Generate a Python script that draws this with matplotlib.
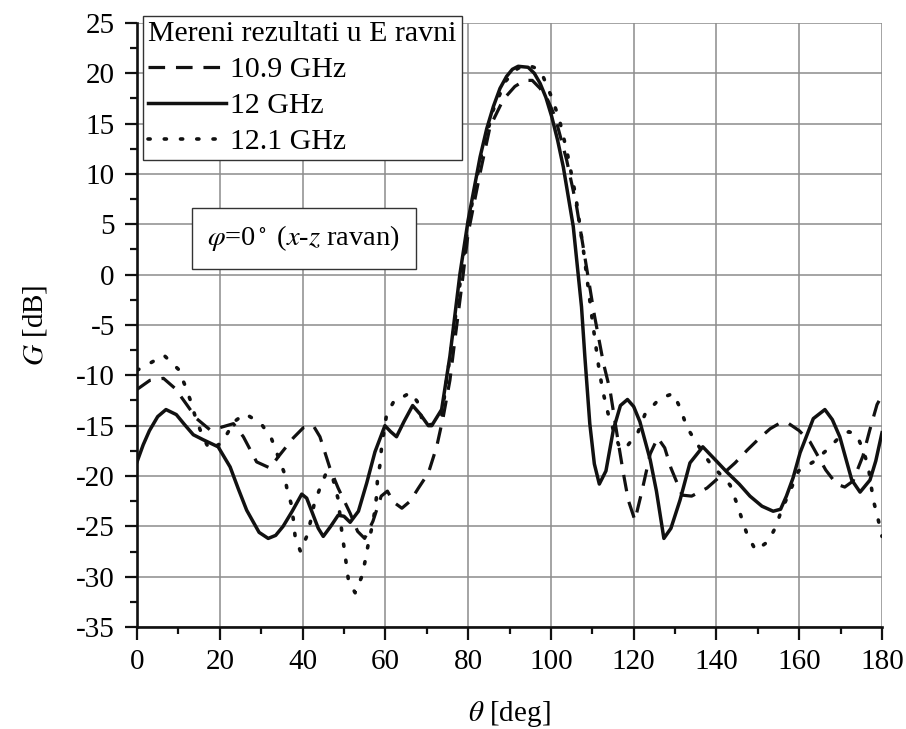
import matplotlib
matplotlib.use('Agg')
import matplotlib.pyplot as plt
from matplotlib.ticker import MultipleLocator

plt.rcParams['font.family'] = ['Liberation Serif', 'DejaVu Serif']
plt.rcParams['mathtext.fontset'] = 'stix'
plt.rcParams['axes.unicode_minus'] = False

# 10.9 GHz (dashed)
theta_109 = [0, 3.1, 6.4, 9.2, 12.0, 14.4, 17.6, 20.0, 23.3, 25.7, 28.9, 32.1, 34.5,
             37.8, 40.2, 42.6, 44.2, 46.6, 48.6, 51.5, 53.3, 55.0, 57.0, 59.0, 60.5,
             62.0, 64.0, 66.0, 68.0, 70.4, 72.4, 74.0, 75.6, 76.8, 78.5, 80.0, 82.9,
             85.3, 88.5, 91.3, 93.7, 95.5, 97.4, 99.3, 101.0, 103.8, 106.2, 108.5,
             110.5, 112.7, 114.3, 116.3, 117.5, 118.7, 120.3, 122.0, 124.0, 125.8,
             127.5, 129.0, 131.7, 134.0, 137.7, 141.0, 144.5, 147.5, 150.5, 153.0,
             155.5, 157.5, 160.0, 162.6, 164.5, 166.4, 169.0, 171.0, 173.0, 175.4,
             177.0, 178.8, 180.0]
gain_109 = [-11.4, -10.5, -10.3, -11.3, -12.9, -14.3, -15.4, -15.2, -14.8, -16.1,
            -18.6, -19.2, -17.9, -16.2, -15.2, -15.0, -16.1, -19.2, -21.2, -23.7,
            -25.5, -26.2, -24.5, -22.0, -21.5, -22.6, -23.2, -22.5, -21.2, -19.7,
            -17.1, -14.1, -10.5, -6.5, -1.0, 4.1, 10.1, 14.7, 17.4, 18.7, 19.3, 19.3,
            18.5, 17.3, 15.7, 11.4, 6.8, 1.0, -4.0, -8.8, -11.5, -16.7, -19.7, -22.4,
            -24.4, -21.5, -17.8, -16.2, -17.2, -19.2, -21.9, -22.0, -21.2, -20.0,
            -18.7, -17.4, -16.2, -15.3, -14.7, -14.8, -15.5, -16.6, -18.0, -19.4,
            -20.8, -21.1, -20.5, -18.0, -15.5, -12.9, -12.0]

# 12 GHz (solid)
theta_12 = [0, 1.5, 3.0, 5.0, 7.0, 9.5, 11.5, 13.6, 16.0, 19.6, 22.5, 24.5, 26.5,
            29.5, 31.7, 33.5, 35.3, 37.5, 39.8, 41.0, 42.4, 43.8, 45.0, 46.8, 48.6,
            50.0, 51.5, 53.5, 55.5, 57.5, 59.9, 61.3, 62.7, 64.5, 66.6, 68.5, 70.4,
            71.2, 73.6, 75.6, 78.0, 80.0, 82.9, 84.5, 86.1, 87.7, 89.3, 90.7, 92.1,
            94.5, 96.0, 97.4, 98.8, 100.2, 101.6, 103.0, 105.4, 107.4, 108.2, 109.4,
            110.5, 111.7, 113.3, 115.1, 116.8, 118.5, 120.0, 121.5, 124.0, 125.5,
            127.3, 129.0, 131.2, 133.6, 136.7, 139.5, 142.5, 145.5, 148.1, 151.0,
            153.7, 155.5, 156.9, 158.5, 160.2, 163.4, 166.2, 168.0, 169.8, 172.7,
            174.7, 177.1, 178.5, 180.0]
gain_12 = [-18.6, -16.9, -15.5, -14.1, -13.4, -13.9, -14.9, -15.9, -16.4, -17.1,
           -19.1, -21.3, -23.4, -25.6, -26.2, -25.9, -25.0, -23.5, -21.8, -22.2,
           -23.7, -25.2, -26.0, -25.0, -23.9, -24.0, -24.6, -23.5, -20.7, -17.6,
           -15.0, -15.6, -16.1, -14.6, -13.0, -13.9, -15.0, -15.0, -13.4, -8.1, 0.0,
           5.4, 11.7, 14.5, 16.7, 18.5, 19.7, 20.4, 20.7, 20.6, 20.0, 19.0, 17.6,
           15.7, 13.4, 10.7, 4.8, -3.2, -8.1, -14.8, -18.8, -20.8, -19.5, -15.4,
           -13.0, -12.4, -13.1, -14.6, -18.4, -21.5, -26.2, -25.2, -22.4, -18.7,
           -17.1, -18.3, -19.6, -20.8, -22.0, -23.0, -23.5, -23.3, -22.0, -20.2,
           -17.7, -14.3, -13.4, -14.4, -16.1, -20.4, -21.6, -20.4, -18.5, -15.7]

# 12.1 GHz (dotted)
theta_121 = [0, 2.7, 6.5, 10.0, 11.6, 13.0, 14.0, 15.6, 17.5, 20.5, 23.5, 26.1,
             30.0, 32.5, 35.5, 36.2, 37.2, 37.8, 38.2, 39.5, 41.0, 42.0, 42.8, 44.2,
             45.8, 47.3, 48.6, 49.5, 50.1, 51.1, 52.7, 54.3, 55.2, 55.9, 56.7, 57.5,
             57.9, 58.1, 58.7, 59.1, 60.3, 62.3, 64.0, 66.1, 67.7, 69.2, 71.3, 73.6,
             76.0, 78.0, 80.0, 83.0, 86.0, 89.0, 92.0, 94.5, 96.5, 98.1, 100.0, 102.0,
             104.0, 106.0, 108.0, 110.0, 111.5, 112.5, 114.0, 116.7, 118.3, 121.1,
             122.7, 126.3, 129.6, 131.4, 132.8, 135.0, 138.4, 143.3, 144.9, 146.1,
             147.4, 149.5, 152.5, 154.4, 155.7, 157.8, 159.8, 163.4, 167.0, 169.8,
             172.0, 173.9, 175.5, 176.7, 177.9, 178.9, 180.0]
gain_121 = [-9.5, -8.9, -8.0, -9.4, -11.0, -12.6, -14.0, -15.8, -17.4, -16.7,
            -14.6, -13.8, -14.8, -16.3, -19.6, -21.2, -22.7, -24.4, -26.0, -27.5,
            -26.0, -24.4, -22.8, -21.2, -19.6, -20.2, -22.3, -25.6, -27.3, -30.4,
            -31.6, -30.0, -28.3, -26.7, -25.2, -23.4, -21.9, -20.3, -18.9, -17.1,
            -13.9, -12.4, -12.2, -11.7, -12.6, -14.9, -14.9, -14.1, -7.0, -1.0, 5.0,
            11.5, 16.3, 19.2, 20.5, 20.8, 20.5, 19.7, 17.8, 15.5, 12.0, 7.8, 2.0,
            -4.5, -9.0, -11.5, -14.1, -17.3, -17.1, -15.6, -13.9, -12.3, -11.8,
            -13.4, -15.1, -16.6, -18.7, -20.9, -22.7, -24.2, -25.8, -27.4, -26.5,
            -25.0, -23.4, -21.5, -19.5, -18.6, -17.3, -16.1, -15.6, -15.9, -17.5,
            -19.1, -22.4, -24.0, -26.0]

fig = plt.figure(figsize=(9.06, 7.29), dpi=100)
ax = fig.add_axes([137 / 906, 1 - 627 / 729, (882 - 137) / 906, (627 - 23) / 729])

ink = '#111111'
ax.plot(theta_109, gain_109, color=ink, lw=2.3, linestyle=(0, (5.2, 3.4)), label='10.9 GHz')
ax.plot(theta_12, gain_12, color=ink, lw=2.5, linestyle='-', label='12 GHz')
ax.plot(theta_121, gain_121, color=ink, lw=2.6, linestyle=(0, (0.6, 3.9)),
        dash_capstyle='round', label='12.1 GHz')

ax.set_xlim(0, 180)
ax.set_ylim(-35, 25)
ax.xaxis.set_major_locator(MultipleLocator(20))
ax.xaxis.set_minor_locator(MultipleLocator(10))
ax.yaxis.set_major_locator(MultipleLocator(5))
ax.yaxis.set_minor_locator(MultipleLocator(2.5))
ax.tick_params(which='major', direction='out', length=9, width=1.6, labelsize=21, pad=7, color=ink)
ax.tick_params(which='minor', direction='out', length=5, width=1.6, color=ink)
ax.grid(True, which='major', color='#8c8c8c', lw=1.1)
ax.set_axisbelow(True)
for side in ['top', 'right']:
    ax.spines[side].set_visible(False)
for side in ['left', 'bottom']:
    ax.spines[side].set_linewidth(1.9)
    ax.spines[side].set_color(ink)

fig.canvas.draw()
ax.get_xgridlines()[-1].set_visible(False)
ax.get_ygridlines()[-1].set_visible(False)

ax.set_xlabel(r'$\theta$ [deg]', fontsize=21, labelpad=17)
ax.set_ylabel(r'$G$ [dB]', fontsize=21, labelpad=19)

leg = ax.legend(loc='upper left', bbox_to_anchor=(143 / 906, 1 - 16 / 729),
                bbox_transform=fig.transFigure, title='Mereni rezultati u E ravni',
                fontsize=21.5, title_fontsize=21.5, frameon=True, fancybox=False,
                edgecolor='#333333', framealpha=1, borderpad=0.18, borderaxespad=0,
                handlelength=2.6, handletextpad=0.15, labelspacing=0.3)
leg._legend_box.align = 'left'
leg.get_frame().set_linewidth(1.0)

ax.text(40.3, 3.6, r'$\varphi$=0$^\circ$ ($x$-$z$ ravan)', fontsize=20.5, ha='center', va='center',
        bbox=dict(boxstyle='square,pad=0.55', fc='white', ec='#333333', lw=1.0))

fig.savefig('out.png', dpi=100)
